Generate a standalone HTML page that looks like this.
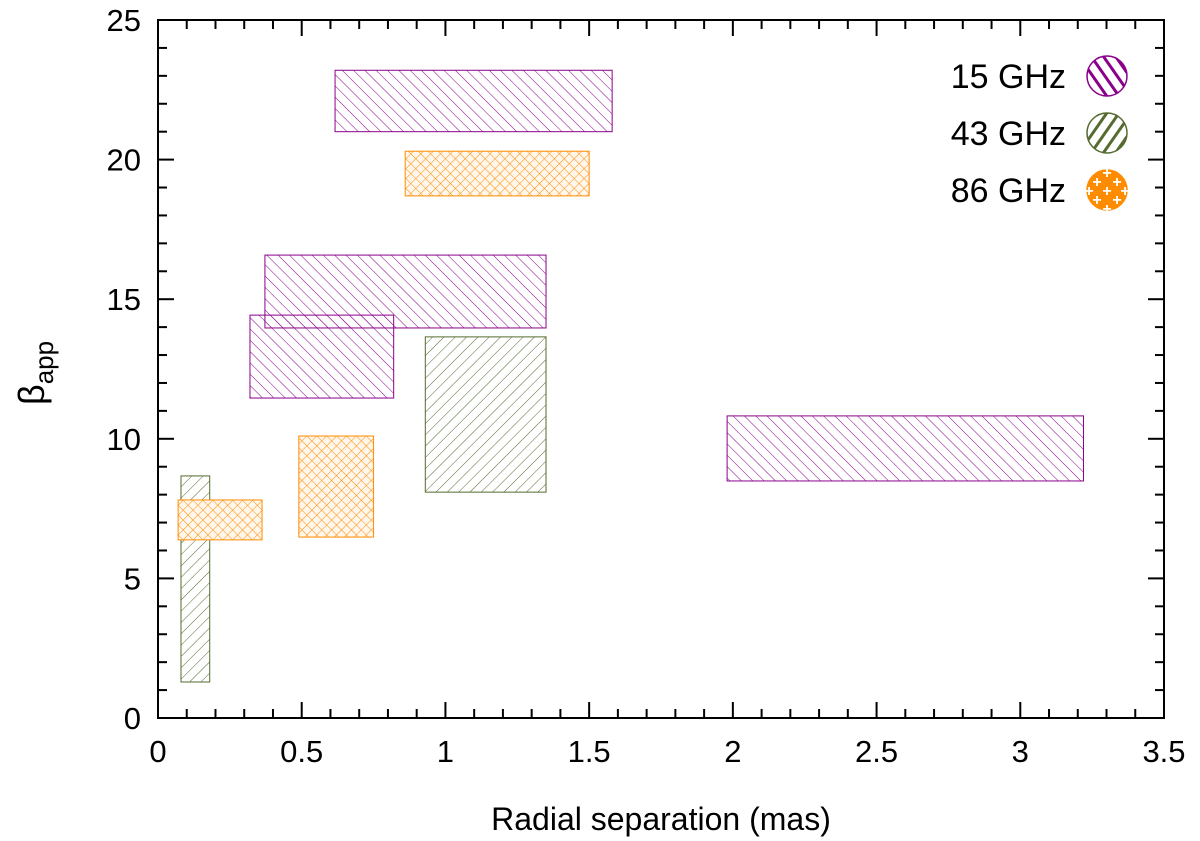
<!DOCTYPE html>
<html><head><meta charset="utf-8"><style>
body{margin:0;background:#fff}
svg{display:block;font-family:"Liberation Sans",sans-serif}
</style></head><body>
<svg id="chart" width="1200" height="841" viewBox="0 0 1200 841">
<defs>
<pattern id="p15" patternUnits="userSpaceOnUse" width="8" height="8" patternTransform="rotate(-45)"><line x1="0" y1="0" x2="0" y2="8" stroke="#8b008b" stroke-width="1"/></pattern>
<pattern id="p43" patternUnits="userSpaceOnUse" width="8" height="8" patternTransform="rotate(45)"><line x1="0" y1="0" x2="0" y2="8" stroke="#556b2f" stroke-width="1"/></pattern>
<pattern id="p86" patternUnits="userSpaceOnUse" width="7" height="7" patternTransform="rotate(45)"><rect width="7" height="7" fill="#fff6ec"/><line x1="0" y1="0" x2="0" y2="7" stroke="#ff8c00" stroke-width="1"/><line x1="0" y1="0" x2="7" y2="0" stroke="#ff8c00" stroke-width="1"/></pattern>
<pattern id="l15" patternUnits="userSpaceOnUse" width="10" height="10" patternTransform="rotate(-35)"><rect width="10" height="10" fill="#fff"/><rect width="3" height="10" fill="#8b008b"/></pattern>
<pattern id="l43" patternUnits="userSpaceOnUse" width="10" height="10" patternTransform="rotate(35)"><rect width="10" height="10" fill="#fff"/><rect width="3" height="10" fill="#556b2f"/></pattern>
</defs>
<g id="plot"></g>
</svg>
<script>
const series = ['15 GHz','43 GHz','86 GHz'];
const xTicks = [0,0.5,1,1.5,2,2.5,3,3.5];
const yTicks = [0,5,10,15,20,25];
const boxSeries = [0,0,0,0,1,1,2,2,2];
const boxX0 = [0.616,0.372,0.32,1.98,0.08,0.93,0.07,0.49,0.86];
const boxX1 = [1.58,1.35,0.82,3.22,0.18,1.35,0.362,0.75,1.5];
const boxY0 = [21.0,13.97,11.46,8.49,1.29,8.09,6.38,6.48,18.7];
const boxY1 = [23.2,16.58,14.43,10.82,8.67,13.65,7.81,10.1,20.3];
const colors=['#8b008b','#556b2f','#ff8c00'];
const fills=['url(#p15)','url(#p43)','url(#p86)'];
const L=158,R=1164,T=20,B=718;
const xs=v=>L+(v-0)/3.5*(R-L);
const ys=v=>B-(v-0)/25*(B-T);
const NS='http://www.w3.org/2000/svg';
const g=document.getElementById('plot');
function mk(t,a){const e=document.createElementNS(NS,t);for(const k in a)e.setAttribute(k,a[k]);g.appendChild(e);return e;}
for(let i=0;i<boxX0.length;i++){
  const s=boxSeries[i];
  const r=mk('rect',{x:xs(boxX0[i]),y:ys(boxY1[i]),width:xs(boxX1[i])-xs(boxX0[i]),height:ys(boxY0[i])-ys(boxY1[i]),fill:fills[s],stroke:colors[s],'stroke-width':1});
  
  
}
for(let v=0;v<=3.5001;v+=0.1){const big=Math.abs(v*2-Math.round(v*2))<1e-6;const len=big?16:9;const x=xs(v);
 mk('line',{x1:x,y1:B,x2:x,y2:B-len,stroke:'#000','stroke-width':2});mk('line',{x1:x,y1:T,x2:x,y2:T+len,stroke:'#000','stroke-width':2});}
for(let v=0;v<=25;v++){const big=v%5===0;const len=big?16:9;const y=ys(v);
 mk('line',{x1:L,y1:y,x2:L+len,y2:y,stroke:'#000','stroke-width':2});mk('line',{x1:R,y1:y,x2:R-len,y2:y,stroke:'#000','stroke-width':2});}
xTicks.forEach(v=>{const t=mk('text',{x:xs(v),y:B+44,'text-anchor':'middle','font-size':31});t.textContent=v;
 });
yTicks.forEach(v=>{const t=mk('text',{x:L-17,y:ys(v)+11,'text-anchor':'end','font-size':31});t.textContent=v;
 });
const fr=mk('rect',{x:L,y:T,width:R-L,height:B-T,fill:'none',stroke:'#000','stroke-width':2});

const xl=mk('text',{x:(L+R)/2,y:830,'text-anchor':'middle','font-size':32});xl.textContent='Radial separation (mas)';

const yl=mk('text',{x:0,y:0,transform:'translate(44,405) rotate(-90)','font-size':36});
yl.innerHTML='β<tspan font-size="26" dy="9">app</tspan>';

const legFill=['url(#l15)','url(#l43)','#ff8c00'];
series.forEach((s,i)=>{const y=76+i*57;
 const t=mk('text',{x:1066,y:y+12,'text-anchor':'end','font-size':34});t.textContent=s;
 
 const c=mk('circle',{cx:1107,cy:y,r:20,fill:legFill[i],stroke:colors[i],'stroke-width':1.5});
 
 if(i===2){[[-10,-9],[10,-9],[0,0],[-10,9],[10,9],[0,-18],[0,18],[-18,0],[18,0]].forEach(([dx,dy])=>{
   const p=mk('text',{x:1107+dx,y:y+dy+6,'text-anchor':'middle','font-size':16,'font-weight':'bold',fill:'#fff'});p.textContent='+';
   });}
});
</script>
</body></html>
